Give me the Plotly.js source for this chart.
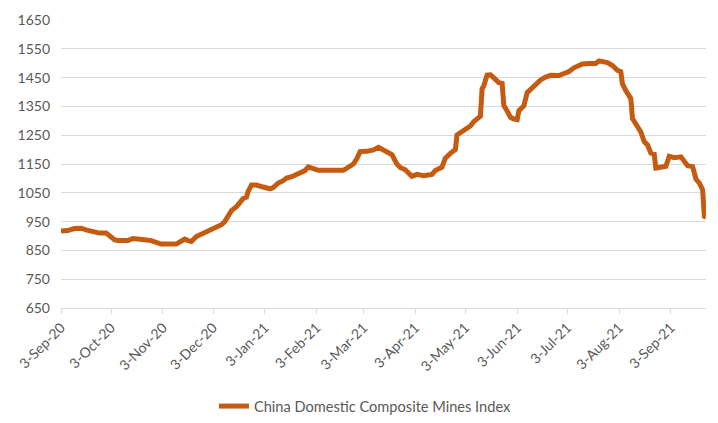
<!DOCTYPE html>
<html>
<head>
<meta charset="utf-8">
<script src="https://cdn.plot.ly/plotly-3.0.1.min.js"></script>
<style>html,body{margin:0;padding:0;background:#fff;}#chart{width:718px;height:423px;}</style>
</head>
<body>
<div id="chart"></div>
<script>
const seriesName = 'China Domestic Composite Mines Index';
const dates = ['2020-09-03','2020-09-07','2020-09-11','2020-09-15','2020-09-18','2020-09-21','2020-09-24','2020-09-26','2020-09-30','2020-10-05',
'2020-10-07','2020-10-13','2020-10-16','2020-10-20','2020-10-23','2020-10-27','2020-10-29','2020-11-02','2020-11-11','2020-11-16',
'2020-11-18','2020-11-20','2020-11-23','2020-11-26','2020-11-29','2020-12-02','2020-12-05','2020-12-08','2020-12-10','2020-12-12',
'2020-12-14','2020-12-17','2020-12-19','2020-12-21','2020-12-23','2020-12-24','2020-12-26','2020-12-29','2021-01-02','2021-01-06',
'2021-01-08','2021-01-11','2021-01-14','2021-01-16','2021-01-19','2021-01-22','2021-01-25','2021-01-27','2021-01-29','2021-02-01',
'2021-02-04','2021-02-19','2021-02-22','2021-02-25','2021-02-27','2021-03-01','2021-03-05','2021-03-09','2021-03-12','2021-03-15',
'2021-03-20','2021-03-23','2021-03-25','2021-03-28','2021-04-01','2021-04-04','2021-04-08','2021-04-13','2021-04-15','2021-04-19',
'2021-04-21','2021-04-24','2021-04-27','2021-04-28','2021-05-02','2021-05-06','2021-05-08','2021-05-11','2021-05-12','2021-05-13',
'2021-05-14','2021-05-16','2021-05-18','2021-05-21','2021-05-23','2021-05-25','2021-05-26','2021-05-28','2021-05-30','2021-06-01',
'2021-06-03','2021-06-04','2021-06-07','2021-06-09','2021-06-11','2021-06-13','2021-06-15','2021-06-17','2021-06-20','2021-06-23',
'2021-06-28','2021-06-30','2021-07-04','2021-07-07','2021-07-09','2021-07-12','2021-07-16','2021-07-20','2021-07-22','2021-07-27',
'2021-07-30','2021-08-02','2021-08-04','2021-08-05','2021-08-07','2021-08-09','2021-08-10','2021-08-11','2021-08-14','2021-08-16',
'2021-08-18','2021-08-20','2021-08-22','2021-08-24','2021-08-25','2021-08-29','2021-08-31','2021-09-02','2021-09-05','2021-09-09',
'2021-09-11','2021-09-13','2021-09-16','2021-09-18','2021-09-20','2021-09-22','2021-09-23','2021-09-24'];
const values = [917,919,926,927,921,917,914,910,910,887,
884,884,891,891,887,884,881,872,872,889,
884,881,898,907,915,921,933,939,950,967,
988,1002,1014,1030,1035,1055,1077,1077,1070,1064,
1068,1084,1092,1101,1106,1115,1123,1127,1140,1134,
1128,1128,1141,1150,1168,1193,1194,1199,1208,1199,
1183,1150,1138,1130,1107,1114,1109,1114,1127,1139,
1170,1187,1200,1251,1266,1282,1297,1316,1316,1411,
1421,1459,1460,1444,1432,1430,1353,1334,1312,1306,
1304,1335,1352,1398,1408,1418,1433,1442,1452,1458,
1457,1462,1471,1484,1490,1497,1499,1499,1508,1502,
1492,1475,1471,1428,1405,1384,1377,1308,1280,1261,
1228,1216,1188,1185,1136,1139,1142,1177,1172,1175,
1157,1144,1141,1098,1084,1060,968,965];
const tickDates = ['2020-09-03','2020-10-03','2020-11-03','2020-12-03','2021-01-03','2021-02-03','2021-03-03','2021-04-03','2021-05-03','2021-06-03','2021-07-03','2021-08-03','2021-09-03'];
const tickLabels = ['3-Sep-20','3-Oct-20','3-Nov-20','3-Dec-20','3-Jan-21','3-Feb-21','3-Mar-21','3-Apr-21','3-May-21','3-Jun-21','3-Jul-21','3-Aug-21','3-Sep-21'];

const font = {family: 'Lato, "Liberation Sans", sans-serif', size: 14, color: '#595959'};
const legendFont = {family: 'Lato, "Liberation Sans", sans-serif', size: 14.6, color: '#595959'};
const trace = {
  x: dates, y: values, type: 'scatter', mode: 'lines', name: seriesName,
  line: {color: '#C55A11', width: 5}
};
const layout = {
  width: 718, height: 423,
  margin: {l: 61, r: 12, t: 20, b: 115},
  paper_bgcolor: '#ffffff', plot_bgcolor: '#ffffff',
  font: font,
  showlegend: true,
  legend: {orientation: 'h', xref: 'container', yref: 'container', x: 0.509, xanchor: 'center', y: 0.04, yanchor: 'middle', font: legendFont},
  xaxis: {
    type: 'date', range: ['2020-09-03', '2021-09-24'],
    tickmode: 'array', tickvals: tickDates, ticktext: tickLabels, tickangle: -45,
    ticks: 'outside', ticklen: 5, tickcolor: '#d9d9d9', tickwidth: 1,
    showgrid: false, showline: true, linecolor: '#d9d9d9', linewidth: 1,
    zeroline: false, tickfont: font
  },
  yaxis: {
    range: [650, 1650], tickmode: 'linear', tick0: 650, dtick: 100,
    showgrid: true, gridcolor: '#d9d9d9', gridwidth: 1,
    zeroline: false, showline: false, ticks: '', tickfont: font,
    ticklabelstandoff: 10
  }
};
Plotly.newPlot('chart', [trace], layout, {displayModeBar: false, staticPlot: true});
</script>
</body>
</html>
